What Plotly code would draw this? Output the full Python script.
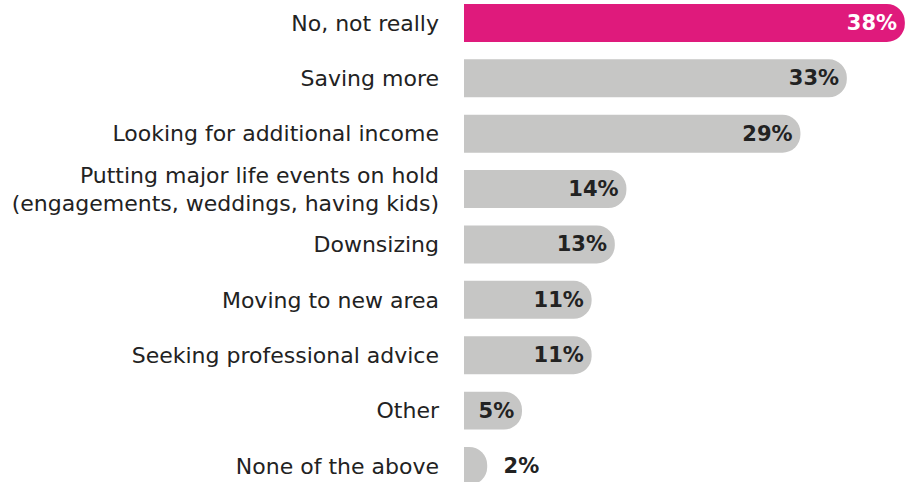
import plotly.graph_objects as go

categories = [
    "No, not really",
    "Saving more",
    "Looking for additional income",
    "Putting major life events on hold<br>(engagements, weddings, having kids)",
    "Downsizing",
    "Moving to new area",
    "Seeking professional advice",
    "Other",
    "None of the above",
]
values = [38, 33, 29, 14, 13, 11, 11, 5, 2]

PINK = "#DF1A7C"
GREY = "#C6C6C5"
DARK = "#222222"
FONT = "DejaVu Sans"

colors = [PINK] + [GREY] * (len(values) - 1)
text_colors = ["white"] + [DARK] * (len(values) - 1)
positions = ["inside" if v >= 4 else "outside" for v in values]
labels = [f"<b>{v}%</b>" if v >= 4 else f"  <b>{v}%</b>" for v in values]

fig = go.Figure(
    go.Bar(
        x=values,
        y=list(range(len(categories))),
        orientation="h",
        marker=dict(color=colors, line=dict(width=0), cornerradius=19),
        width=0.686,
        text=labels,
        textposition=positions,
        insidetextanchor="end",
        textfont=dict(family=FONT, size=21, color=text_colors),
        cliponaxis=False,
    )
)

fig.update_layout(
    width=906,
    height=482,
    margin=dict(l=464, r=0, t=0, b=0),
    paper_bgcolor="white",
    plot_bgcolor="white",
    showlegend=False,
    font=dict(family=FONT, color=DARK),
    xaxis=dict(range=[0, 38.1], visible=False, fixedrange=True),
    yaxis=dict(
        range=[8.289, -0.415],
        tickmode="array",
        tickvals=list(range(len(categories))),
        ticktext=categories,
        tickfont=dict(family=FONT, size=22, color=DARK),
        showgrid=False,
        zeroline=False,
        showline=False,
        ticks="",
        ticklabelstandoff=24,
    ),
)

fig.write_html("out.html")
